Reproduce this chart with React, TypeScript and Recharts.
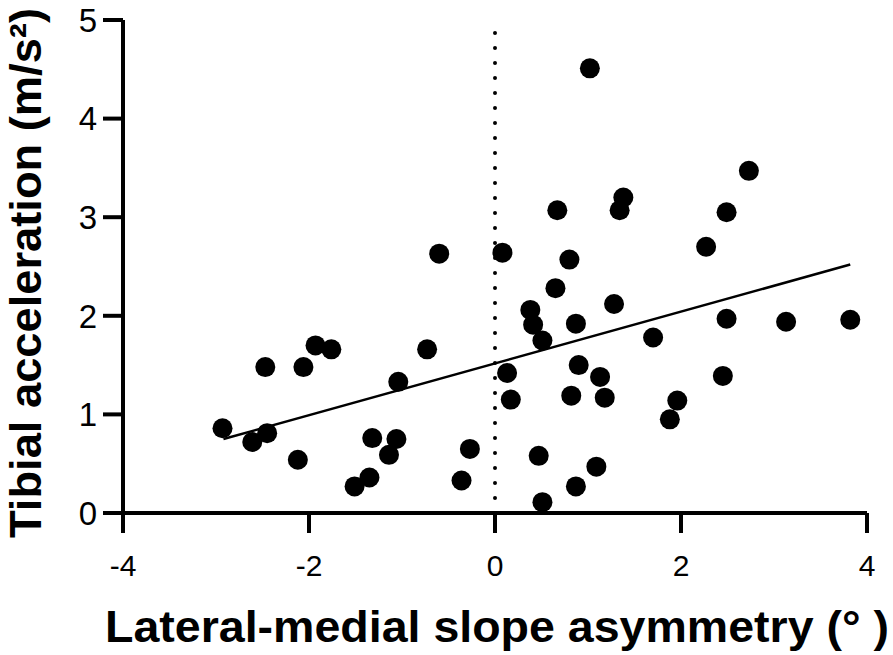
import React from 'react';
import { ScatterChart, Scatter, XAxis, YAxis, ReferenceLine, Label } from 'recharts';

// lateral-medial slope asymmetry (deg)
const asymmetry = [
  -2.93, -2.61, -2.45, -2.47, -2.06, -1.93, -1.76, -2.12, -1.51, -1.35,
  -1.32, -1.14, -1.06, -1.04, -0.73, -0.27, -0.36, -0.6, 0.08, 1.02,
  0.67, 1.38, 1.34, 2.73, 2.49, 2.27, 0.8, 0.65, 0.38, 0.41,
  0.51, 0.87, 1.28, 1.7, 2.49, 3.13, 3.82, 0.13, 0.17, 0.9,
  1.13, 0.82, 1.18, 1.96, 1.88, 2.45, 0.47, 1.09, 0.87, 0.51,
];

// tibial acceleration (m/s^2)
const tibialAccel = [
  0.86, 0.72, 0.81, 1.48, 1.48, 1.7, 1.66, 0.54, 0.27, 0.36,
  0.76, 0.59, 0.75, 1.33, 1.66, 0.65, 0.33, 2.63, 2.64, 4.51,
  3.07, 3.2, 3.07, 3.47, 3.05, 2.7, 2.57, 2.28, 2.06, 1.91,
  1.75, 1.92, 2.12, 1.78, 1.97, 1.94, 1.96, 1.42, 1.15, 1.5,
  1.38, 1.19, 1.17, 1.14, 0.95, 1.39, 0.58, 0.47, 0.27, 0.11,
];

const xTicks = [-4, -2, 0, 2, 4];
const yTicks = [0, 1, 2, 3, 4, 5];

// regression line end points
const fitX = [-2.92, 3.82];
const fitY = [0.75, 2.52];

const points = asymmetry.map((x, i) => ({ x, y: tibialAccel[i] }));
const fitSegment = fitX.map((x, i) => ({ x, y: fitY[i] }));

const Dot = (props: any) => <circle cx={props.cx} cy={props.cy} r={10} fill="#000" />;

const axisStyle = { stroke: '#000', strokeWidth: 4 };

export default function App() {
  return (
    <div style={{ position: 'absolute', left: 0, top: 0, background: '#fff' }}>
      <ScatterChart
        width={893}
        height={655}
        margin={{ top: 20, right: 26, bottom: 0, left: 0 }}
      >
        <XAxis
          type="number"
          dataKey="x"
          domain={[-4, 4]}
          ticks={xTicks}
          interval={0}
          height={142}
          axisLine={axisStyle}
          tickLine={axisStyle}
          tickSize={20}
          tickMargin={22}
          tick={{ fill: '#000', fontSize: 30, fontFamily: 'Liberation Sans, Arial, sans-serif' }}
        >
          <Label
            content={() => (
              <text
                x={497}
                y={642}
                textAnchor="middle"
                textLength={784}
                lengthAdjust="spacingAndGlyphs"
                fontFamily="Liberation Sans, Arial, sans-serif"
                fontWeight="bold"
                fontSize={44}
                fill="#000"
              >
                Lateral-medial slope asymmetry (°  )
              </text>
            )}
          />
        </XAxis>
        <YAxis
          type="number"
          dataKey="y"
          domain={[0, 5]}
          ticks={yTicks}
          interval={0}
          width={123}
          axisLine={axisStyle}
          tickLine={axisStyle}
          tickSize={20}
          tickMargin={6}
          tick={{ fill: '#000', fontSize: 33, fontFamily: 'Liberation Sans, Arial, sans-serif' }}
        >
          <Label
            content={() => (
              <text
                x={41}
                y={273}
                transform="rotate(-90 41 273)"
                textAnchor="middle"
                textLength={530}
                lengthAdjust="spacingAndGlyphs"
                fontFamily="Liberation Sans, Arial, sans-serif"
                fontWeight="bold"
                fontSize={45}
                fill="#000"
              >
                Tibial acceleration (m/s²)
              </text>
            )}
          />
        </YAxis>
        <ReferenceLine
          x={0}
          stroke="#000"
          strokeWidth={4}
          strokeDasharray="0 15"
          strokeLinecap="round"
        />
        <ReferenceLine
          segment={fitSegment}
          stroke="#000"
          strokeWidth={2.5}
        />
        <Scatter data={points} shape={Dot} isAnimationActive={false} />
      </ScatterChart>
    </div>
  );
}
